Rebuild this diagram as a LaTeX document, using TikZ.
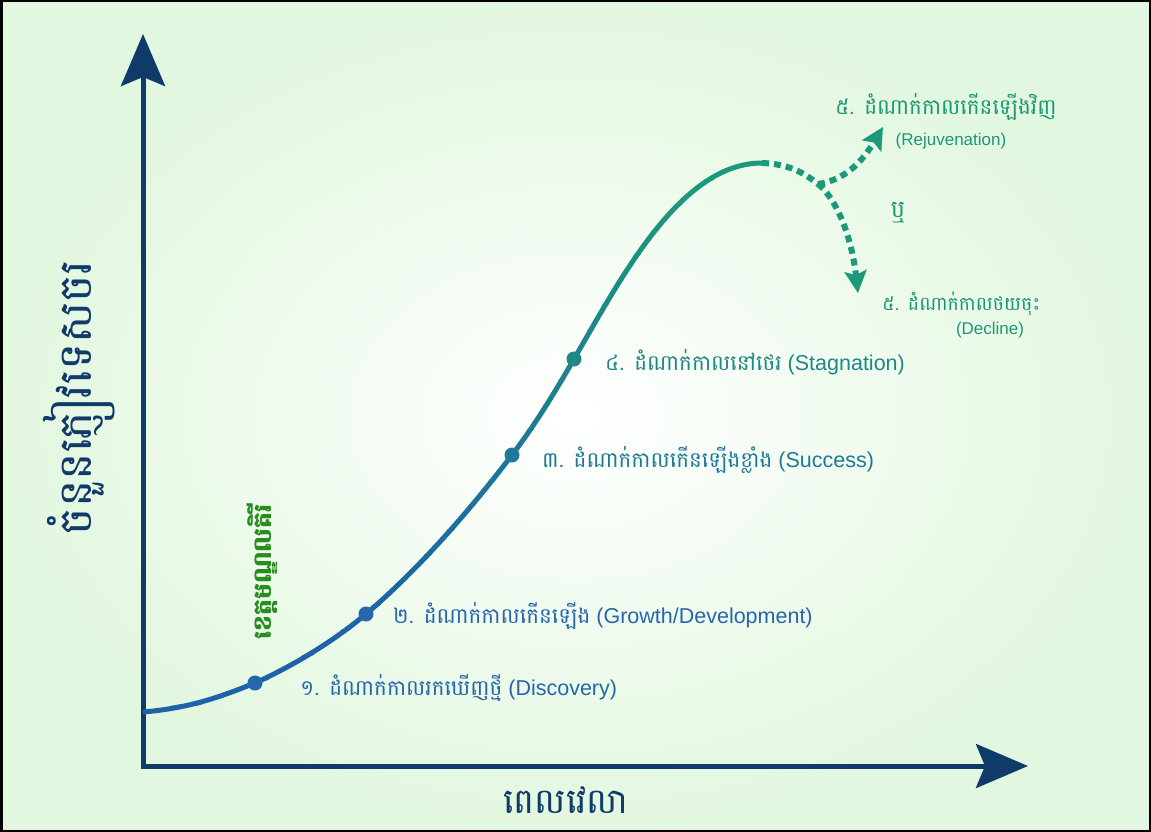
\documentclass[tikz,border=0pt]{standalone}
\usepackage{fontspec}
\setmainfont{Liberation Sans}
\newfontfamily\kh[Script=Khmer]{Battambang}
\usetikzlibrary{arrows.meta}
\definecolor{navy}{RGB}{16,58,104}
\definecolor{mint}{RGB}{226,247,223}
\definecolor{cBlue}{RGB}{30,98,170}
\definecolor{cTeal}{RGB}{28,152,122}
\definecolor{tOne}{RGB}{38,102,170}
\definecolor{tThree}{RGB}{30,122,150}
\definecolor{tFour}{RGB}{30,136,134}
\definecolor{tFive}{RGB}{30,150,120}
\definecolor{gLbl}{RGB}{40,140,30}
\tikzset{
  axisline/.style={draw=navy, line width=5pt, -{Stealth[length=52pt,width=44pt,inset=9pt]}},
  lbl/.style={anchor=west, inner sep=0pt, font=\fontsize{21.5}{24}\selectfont},
  smalllbl/.style={anchor=center, inner sep=0pt, font=\fontsize{17}{20}\selectfont},
  dotnode/.style={circle, inner sep=0pt, minimum size=15pt, draw=none},
  dashline/.style={draw=cTeal, line width=6pt, dash pattern=on 7pt off 5pt},
  dashtip/.style={-{Stealth[length=22pt,width=22pt,inset=4pt]}},
}
\begin{document}
\begin{tikzpicture}[x=1pt,y=-1pt]
\useasboundingbox (0,0) rectangle (1151,832);
\shade[inner color=white, outer color=mint] (0,0) rectangle (1151,832);
\draw[black, line width=2.5pt] (1.25,1.25) rectangle (1149.75,830.75);
% axes
\coordinate (o) at (143,766);
\coordinate (ytip) at (143,34);
\coordinate (xtip) at (1028,766);
\draw[axisline] (143,768) -- (ytip);
\draw[axisline] (141,766) -- (xtip);
% curve points
\coordinate (p0) at (143,712);
\coordinate (p1) at (255,683);
\coordinate (p2) at (366,614);
\coordinate (p3) at (512,455);
\coordinate (p4) at (574,359);
\coordinate (pk) at (762,163);
\def\curvepath{(p0) .. controls (190,708) and (220,697) .. (p1)
  .. controls (295,665) and (335,640) .. (p2)
  .. controls (420,568) and (470,510) .. (p3)
  .. controls (535,425) and (555,392) .. (p4)
  .. controls (620,280) and (680,163) .. (pk)}
\foreach \i in {0,...,22}{
  \pgfmathsetmacro\ya{730-\i*25}
  \pgfmathsetmacro\yb{\ya-25.5}
  \pgfmathtruncatemacro\pct{max(0,min(100,(620-\ya+12)/420*100))}
  \colorlet{cc}{cTeal!\pct!cBlue}
  \begin{scope}
    \clip (100,\ya) rectangle (800,\yb);
    \draw[cc, line width=5pt] \curvepath;
  \end{scope}
}
% dashed continuation
\coordinate (fk) at (818,184);
\coordinate (t5a) at (883,127);
\coordinate (t5b) at (858,293);
\draw[dashline] (pk) .. controls (788,164) and (803,172) .. (fk);
\draw[dashline, dashtip] (fk) .. controls (845,180) and (862,162) .. (t5a);
\draw[dashline, dashtip] (fk) .. controls (838,200) and (852,240) .. (t5b);
% dots
\node[dotnode, fill=tOne] (d1) at (p1) {};
\node[dotnode, fill=tOne] (d2) at (p2) {};
\node[dotnode, fill=tThree] (d3) at (p3) {};
\node[dotnode, fill=tFour] (d4) at (p4) {};
% labels
\node[lbl, text=tOne] (l1) at (300,688) {{\kh ១. ដំណាក់កាលរកឃើញថ្មី} (Discovery)};
\node[lbl, text=tOne] (l2) at (393,616) {{\kh ២. ដំណាក់កាលកើនឡើង} (Growth/Development)};
\node[lbl, text=tThree] (l3) at (542,460) {{\kh ៣. ដំណាក់កាលកើនឡើងខ្លាំង} (Success)};
\node[lbl, text=tFour] (l4) at (605,362) {{\kh ៤. ដំណាក់កាលនៅថេរ} (Stagnation)};
\node[lbl, text=tFive] (l5a) at (835,107) {\kh ៥. ដំណាក់កាលកើនឡើងវិញ};
\node[smalllbl, text=tFive] (l5ae) at (951,141) {(Rejuvenation)};
\node[lbl, text=tFive, anchor=center, font=\kh\fontsize{24}{26}\selectfont] (or) at (898,213) {ឬ};
\node[lbl, text=tFive, font=\kh\fontsize{19}{22}\selectfont] (l5b) at (882,304) {៥. ដំណាក់កាលថយចុះ};
\node[smalllbl, text=tFive] (l5be) at (990,330) {(Decline)};
% axis titles
\node[inner sep=0pt, text=navy, rotate=90, font=\kh\fontsize{46}{50}\selectfont] (ylab) at (79,398) {ចំនួនភ្ញៀវទេសចរ};
\node[inner sep=0pt, text=navy, font=\kh\fontsize{35}{40}\selectfont] (xlab) at (566,800) {ពេលវេលា};
\node[inner sep=0pt, text=gLbl, rotate=90, font=\kh\bfseries\fontsize{25}{28}\selectfont] (glab) at (262,572) {ខេត្តមណ្ឌលគិរី};
\end{tikzpicture}
\end{document}
